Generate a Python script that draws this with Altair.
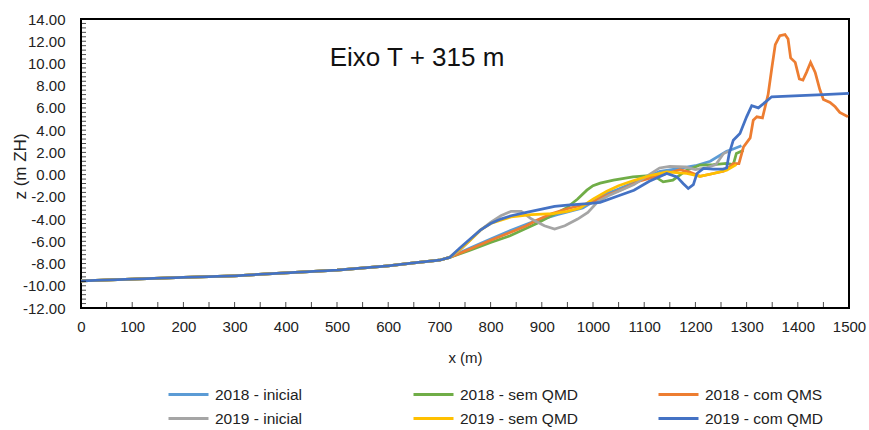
import altair as alt
import pandas as pd

# Series names (legend order) and Excel-style colours
series_names = [
    "2018 - inicial", "2018 - sem QMD", "2018 - com QMS",
    "2019 - inicial", "2019 - sem QMD", "2019 - com QMD",
]
series_colors = ["#5B9BD5", "#70AD47", "#ED7D31", "#A5A5A5", "#FFC000", "#4472C4"]

# Offshore stretch shared by every survey (x in m, z in m ZH)
base_x = [0, 100, 200, 300, 400, 500, 600, 650, 700, 720]
base_z = [-9.55, -9.4, -9.25, -9.1, -8.85, -8.6, -8.2, -7.95, -7.7, -7.45]

# 2018 - inicial
x_2018_ini = [760, 800, 840, 880, 930, 980, 1027, 1050, 1080, 1110, 1131, 1160, 1200, 1229, 1261, 1274, 1290]
z_2018_ini = [-6.6, -5.8, -5.0, -4.3, -3.6, -3.0, -1.7, -1.3, -0.7, -0.1, 0.3, 0.5, 0.8, 1.2, 2.1, 2.3, 2.6]

# 2018 - sem QMD
x_2018_sem = [760, 800, 838, 890, 948, 970, 988, 1000, 1014, 1040, 1078, 1110, 1125, 1137, 1156, 1183,
              1209, 1235, 1261, 1274, 1280, 1294]
z_2018_sem = [-6.8, -6.1, -5.5, -4.4, -3.0, -2.2, -1.4, -1.0, -0.77, -0.5, -0.2, -0.1, -0.3, -0.65, -0.5, 0.4,
              0.86, 0.9, 1.0, 0.9, 1.9, 2.2]

# 2018 - com QMS
x_2018_com = [760, 800, 838, 870, 890, 920, 955, 994, 1020, 1053, 1090, 1120, 1144, 1170, 1190, 1209, 1235,
              1255, 1267, 1274, 1285, 1294, 1307, 1313, 1320, 1331, 1342, 1349, 1356, 1365, 1375, 1381,
              1386, 1395, 1403, 1410, 1417, 1425, 1434, 1443, 1450, 1463, 1473, 1482, 1498]
z_2018_com = [-6.7, -5.9, -5.2, -4.6, -4.1, -3.5, -3.0, -2.6, -2.0, -1.4, -0.6, -0.2, 0.1, 0.45, 0.2, -0.15, 0.1,
              0.3, 0.7, 1.0, 1.0, 2.5, 3.3, 4.9, 5.2, 5.1, 7.2, 9.5, 11.7, 12.5, 12.6, 12.2,
              10.5, 10.1, 8.6, 8.5, 9.2, 10.1, 9.2, 7.65, 6.75, 6.5, 6.1, 5.6, 5.2]

# 2019 - inicial
x_2019_ini = [740, 760, 780, 800, 820, 840, 860, 880, 905, 925, 945, 970, 990, 1010, 1030, 1050, 1080, 1100,
              1130, 1150, 1180, 1200, 1220, 1240, 1255, 1265]
z_2019_ini = [-6.8, -5.9, -5.0, -4.3, -3.7, -3.3, -3.3, -4.0, -4.6, -4.9, -4.6, -4.0, -3.4, -2.4, -1.9, -1.5,
              -0.9, -0.3, 0.6, 0.75, 0.7, 0.45, 0.6, 0.9, 1.9, 2.1]

# 2019 - sem QMD
x_2019_sem = [740, 760, 780, 800, 840, 880, 922, 950, 975, 1000, 1027, 1050, 1078, 1110, 1144, 1183, 1209,
              1235, 1261, 1280]
z_2019_sem = [-6.7, -5.9, -5.0, -4.4, -3.8, -3.6, -3.5, -3.3, -3.0, -2.2, -1.5, -1.0, -0.55, -0.1, 0.25, 0.1,
              -0.15, 0.1, 0.4, 0.9]

# 2019 - com QMD
x_2019_com = [740, 760, 780, 800, 820, 840, 870, 900, 925, 950, 990, 1014, 1050, 1080, 1110, 1144, 1164,
              1176, 1186, 1196, 1203, 1216, 1235, 1254, 1261, 1266, 1274, 1287, 1300, 1310, 1323, 1336,
              1349, 1404, 1450, 1500]
z_2019_com = [-6.6, -5.8, -5.0, -4.4, -4.0, -3.7, -3.4, -3.1, -2.85, -2.75, -2.6, -2.5, -1.9, -1.4, -0.6, 0.1,
              -0.2, -0.8, -1.25, -0.9, 0.1, 0.55, 0.5, 0.5, 0.6, 1.9, 3.1, 3.7, 5.2, 6.2, 6.0, 6.5,
              7.0, 7.1, 7.2, 7.3]

series_x = [x_2018_ini, x_2018_sem, x_2018_com, x_2019_ini, x_2019_sem, x_2019_com]
series_z = [z_2018_ini, z_2018_sem, z_2018_com, z_2019_ini, z_2019_sem, z_2019_com]

# Axis tick positions (major labels and the inner tick marks)
x_labels = list(range(0, 1501, 100))
y_labels = list(range(-12, 15, 2))
x_minor = list(range(0, 1501, 50))
y_minor = [round(-12 + 0.4 * k, 1) for k in range(66)]

rows = []
for name, xs, zs in zip(series_names, series_x, series_z):
    for i, (xv, zv) in enumerate(zip(base_x + xs, base_z + zs)):
        rows.append({"serie": name, "x": xv, "z": zv, "i": i})
df = pd.DataFrame(rows)

FONT = "Liberation Sans, Arial, sans-serif"
W, H = 768, 289

x_scale = alt.Scale(domain=[0, 1500], nice=False, zero=False)
y_scale = alt.Scale(domain=[-12, 14], nice=False, zero=False)

x_axis = alt.Axis(values=x_labels, format="d", title="x (m)", labelPadding=11, labelFlush=False,
                  titleX=W / 2, titleY=49, titleBaseline="middle")
y_axis = alt.Axis(values=y_labels, labelPadding=16, title="z (m ZH)", labelFlush=False,
                  labelExpr="replace(format(datum.value, '.2f'), '\u2212', '-')",
                  titleX=-61, titleY=147, titleAngle=-90, titleBaseline="middle",
                  titleAlign="center", titleFontSize=17)

lines = alt.Chart(df).mark_line(strokeWidth=2.75).encode(
    x=alt.X("x:Q", scale=x_scale, axis=x_axis),
    y=alt.Y("z:Q", scale=y_scale, axis=y_axis),
    color=alt.Color("serie:N", scale=alt.Scale(domain=series_names, range=series_colors),
                    legend=alt.Legend(orient="none", legendX=96, legendY=364, columns=3,
                                      direction="horizontal", title=None,
                                      symbolType="M-2,0L2,0", symbolSize=400,
                                      symbolStrokeWidth=3, labelFont=FONT,
                                      labelFontSize=15.5, labelColor="#222222", labelOffset=15,
                                      columnPadding=73, rowPadding=4, gridAlign="all",
                                      padding=0, labelLimit=300)),
    order=alt.Order("i:Q"),
)

yticks = alt.Chart(pd.DataFrame({"v": y_minor})).mark_tick(
    color="black", thickness=1, size=5, orient="horizontal"
).encode(y=alt.Y("v:Q", scale=y_scale, axis=y_axis), x=alt.value(2.5))

xticks = alt.Chart(pd.DataFrame({"v": x_minor})).mark_tick(
    color="black", thickness=1, size=6, orient="vertical"
).encode(x=alt.X("v:Q", scale=x_scale, axis=x_axis), y=alt.value(H - 3))

label = alt.Chart(pd.DataFrame({"t": ["Eixo T + 315 m"]})).mark_text(
    font=FONT, fontSize=26, color="#111111", align="center", baseline="middle"
).encode(text="t:N", x=alt.value(336), y=alt.value(39))

chart = alt.layer(lines, yticks, xticks, label).properties(
    width=W, height=H, autosize="none",
    padding={"left": 81, "top": 19, "right": 20, "bottom": 122},
    background="white",
).configure_view(
    stroke="black", strokeWidth=2
).configure_axis(
    domain=False, ticks=False, grid=False,
    labelFont=FONT, labelFontSize=15, labelColor="#222222",
    titleFont=FONT, titleFontSize=15, titleFontWeight="normal", titleColor="#222222",
)

chart.save("out.html", embed_options={"renderer": "svg", "actions": False})
